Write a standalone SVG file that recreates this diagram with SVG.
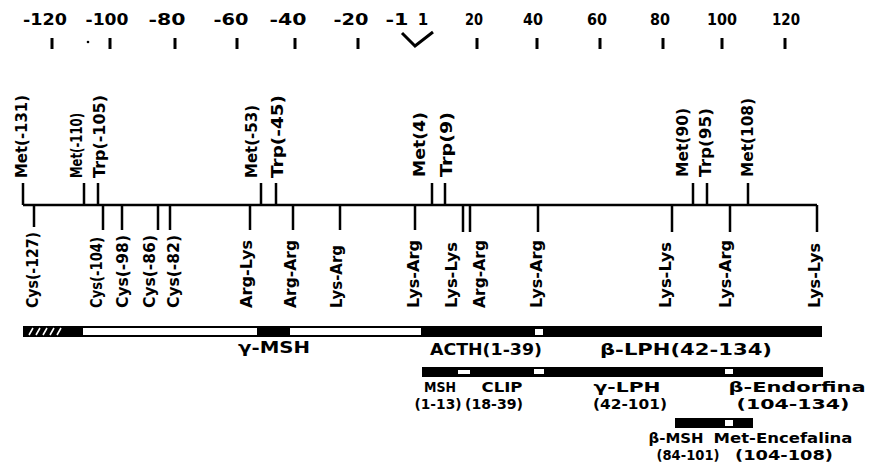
<svg xmlns="http://www.w3.org/2000/svg" width="884" height="472" viewBox="0 0 884 472">
<style>
.t{font-family:"DejaVu Sans","Liberation Sans",sans-serif;font-weight:bold;font-size:15px;fill:#000}
.ax{font-size:15px;text-anchor:middle}
.c{text-anchor:middle}
.s{font-size:14px}
.ln{stroke:#000;stroke-width:2.5;fill:none}
.tk{stroke:#000;stroke-width:3;fill:none}
.wh{fill:#fff}
.hat{stroke:#fff;stroke-width:1.6}
</style>
<rect width="884" height="472" fill="#fff"/>
<g id="axis">
<text class="t ax" x="45" y="25" textLength="44" lengthAdjust="spacingAndGlyphs">-120</text>
<text class="t ax" x="107" y="25" textLength="43" lengthAdjust="spacingAndGlyphs">-100</text>
<text class="t ax" x="167" y="25" textLength="37" lengthAdjust="spacingAndGlyphs">-80</text>
<text class="t ax" x="231" y="25" textLength="35" lengthAdjust="spacingAndGlyphs">-60</text>
<text class="t ax" x="288" y="25" textLength="37" lengthAdjust="spacingAndGlyphs">-40</text>
<text class="t ax" x="351" y="25" textLength="35" lengthAdjust="spacingAndGlyphs">-20</text>
<text class="t ax" x="397" y="25" textLength="23" lengthAdjust="spacingAndGlyphs">-1</text>
<text class="t ax" x="423" y="25">1</text>
<text class="t ax" x="474" y="25" textLength="18" lengthAdjust="spacingAndGlyphs">20</text>
<text class="t ax" x="533" y="25" textLength="20" lengthAdjust="spacingAndGlyphs">40</text>
<text class="t ax" x="597" y="25" textLength="20" lengthAdjust="spacingAndGlyphs">60</text>
<text class="t ax" x="660" y="25" textLength="20" lengthAdjust="spacingAndGlyphs">80</text>
<text class="t ax" x="722" y="25" textLength="30" lengthAdjust="spacingAndGlyphs">100</text>
<text class="t ax" x="786" y="25" textLength="28" lengthAdjust="spacingAndGlyphs">120</text>
<path class="tk" d="M52 38V49M110 38V49M175 38V49M237 38V49M295 38V49M358 38V49M477 38V49M537 38V49M600 38V49M663 38V49M722 38V49M785 38V49"/>
<path class="tk" d="M402 33L415 46L433 32"/>
<circle cx="88" cy="42" r="1.3" fill="#000"/>
</g>
<g id="connectors">
<path class="ln" d="M23 205H817"/>
<path class="ln" d="M23 183V205M84 183V205M98 183V205M261 183V205M276 183V205M432 183V205M445 183V205M693 183V205M707 183V205M748 183V205"/>
<path class="ln" d="M34 205V227M103 205V230M122 205V230M158 205V230M170 205V230M250 205V230M293 205V230M340 205V230M415 205V230M463 205V232M470 205V232M538 205V232M672 205V232M730 205V232M817 205V232"/>
</g>
<g id="sites-above">
<text class="t" transform="rotate(-90 27 178)" x="27" y="178" textLength="83" lengthAdjust="spacingAndGlyphs">Met(-131)</text>
<text class="t" transform="rotate(-90 82 178)" x="82" y="178" textLength="65" lengthAdjust="spacingAndGlyphs">Met(-110)</text>
<text class="t" transform="rotate(-90 105 178)" x="105" y="178" textLength="83" lengthAdjust="spacingAndGlyphs">Trp(-105)</text>
<text class="t" transform="rotate(-90 257 178)" x="257" y="178" textLength="73" lengthAdjust="spacingAndGlyphs">Met(-53)</text>
<text class="t" transform="rotate(-90 283 178)" x="283" y="178" textLength="83" lengthAdjust="spacingAndGlyphs">Trp(-45)</text>
<text class="t" transform="rotate(-90 425 177)" x="425" y="177" textLength="65" lengthAdjust="spacingAndGlyphs">Met(4)</text>
<text class="t" transform="rotate(-90 452 177)" x="452" y="177" textLength="65" lengthAdjust="spacingAndGlyphs">Trp(9)</text>
<text class="t" transform="rotate(-90 688 177)" x="688" y="177" textLength="69" lengthAdjust="spacingAndGlyphs">Met(90)</text>
<text class="t" transform="rotate(-90 711 177)" x="711" y="177" textLength="69" lengthAdjust="spacingAndGlyphs">Trp(95)</text>
<text class="t" transform="rotate(-90 753 177)" x="753" y="177" textLength="79" lengthAdjust="spacingAndGlyphs">Met(108)</text>
</g>
<g id="sites-below">
<text class="t" transform="rotate(-90 38 308)" x="38" y="308" textLength="76" lengthAdjust="spacingAndGlyphs">Cys(-127)</text>
<text class="t" transform="rotate(-90 102 308)" x="102" y="308" textLength="71" lengthAdjust="spacingAndGlyphs">Cys(-104)</text>
<text class="t" transform="rotate(-90 128 308)" x="128" y="308" textLength="73" lengthAdjust="spacingAndGlyphs">Cys(-98)</text>
<text class="t" transform="rotate(-90 155 308)" x="155" y="308" textLength="73" lengthAdjust="spacingAndGlyphs">Cys(-86)</text>
<text class="t" transform="rotate(-90 179 308)" x="179" y="308" textLength="73" lengthAdjust="spacingAndGlyphs">Cys(-82)</text>
<text class="t" transform="rotate(-90 252 308)" x="252" y="308" textLength="68" lengthAdjust="spacingAndGlyphs">Arg-Lys</text>
<text class="t" transform="rotate(-90 296 308)" x="296" y="308" textLength="68" lengthAdjust="spacingAndGlyphs">Arg-Arg</text>
<text class="t" transform="rotate(-90 342 308)" x="342" y="308" textLength="63" lengthAdjust="spacingAndGlyphs">Lys-Arg</text>
<text class="t" transform="rotate(-90 419 308)" x="419" y="308" textLength="68" lengthAdjust="spacingAndGlyphs">Lys-Arg</text>
<text class="t" transform="rotate(-90 457 308)" x="457" y="308" textLength="66" lengthAdjust="spacingAndGlyphs">Lys-Lys</text>
<text class="t" transform="rotate(-90 485 308)" x="485" y="308" textLength="68" lengthAdjust="spacingAndGlyphs">Arg-Arg</text>
<text class="t" transform="rotate(-90 542 308)" x="542" y="308" textLength="68" lengthAdjust="spacingAndGlyphs">Lys-Arg</text>
<text class="t" transform="rotate(-90 671 308)" x="671" y="308" textLength="66" lengthAdjust="spacingAndGlyphs">Lys-Lys</text>
<text class="t" transform="rotate(-90 731 308)" x="731" y="308" textLength="68" lengthAdjust="spacingAndGlyphs">Lys-Arg</text>
<text class="t" transform="rotate(-90 820 308)" x="820" y="308" textLength="65" lengthAdjust="spacingAndGlyphs">Lys-Lys</text>
</g>
<g id="pomc-bar">
<rect x="23" y="326" width="799" height="11" fill="#000"/>
<rect class="wh" x="83" y="328" width="174" height="7"/>
<rect class="wh" x="290" y="328" width="131" height="7"/>
<rect class="wh" x="535" y="329" width="8" height="6"/>
<path class="hat" d="M29 335L33 328M36 335L40 328M43 335L47 328M50 335L54 328M57 335L61 328"/>
<text class="t c" x="274" y="353" textLength="72" lengthAdjust="spacingAndGlyphs">γ-MSH</text>
<text class="t c" x="486" y="355" textLength="112" lengthAdjust="spacingAndGlyphs">ACTH(1-39)</text>
<text class="t c" x="686" y="355" textLength="172" lengthAdjust="spacingAndGlyphs">β-LPH(42-134)</text>
</g>
<g id="fragments-bar">
<rect x="422" y="367" width="401" height="10" fill="#000"/>
<rect class="wh" x="458" y="370" width="12" height="4"/>
<rect class="wh" x="534" y="369" width="10" height="5"/>
<rect class="wh" x="725" y="369" width="8" height="5"/>
<text class="t c s" x="440" y="392" textLength="32" lengthAdjust="spacingAndGlyphs">MSH</text>
<text class="t c s" x="502" y="392" textLength="41" lengthAdjust="spacingAndGlyphs">CLIP</text>
<text class="t c s" x="627" y="392" textLength="67" lengthAdjust="spacingAndGlyphs">γ-LPH</text>
<text class="t c s" x="797" y="392" textLength="137" lengthAdjust="spacingAndGlyphs">β-Endorfina</text>
<text class="t c s" x="438" y="409" textLength="47" lengthAdjust="spacingAndGlyphs">(1-13)</text>
<text class="t c s" x="494" y="409" textLength="58" lengthAdjust="spacingAndGlyphs">(18-39)</text>
<text class="t c s" x="630" y="409" textLength="74" lengthAdjust="spacingAndGlyphs">(42-101)</text>
<text class="t c s" x="793" y="409" textLength="113" lengthAdjust="spacingAndGlyphs">(104-134)</text>
</g>
<g id="bmsh-bar">
<rect x="675" y="418" width="78" height="10" fill="#000"/>
<rect class="wh" x="725" y="420" width="8" height="6"/>
<text class="t c s" x="676" y="443" textLength="55" lengthAdjust="spacingAndGlyphs">β-MSH</text>
<text class="t c s" x="783" y="443" textLength="139" lengthAdjust="spacingAndGlyphs">Met-Encefalina</text>
<text class="t c s" x="688" y="460" textLength="63" lengthAdjust="spacingAndGlyphs">(84-101)</text>
<text class="t c s" x="784" y="460" textLength="98" lengthAdjust="spacingAndGlyphs">(104-108)</text>
</g>
</svg>
